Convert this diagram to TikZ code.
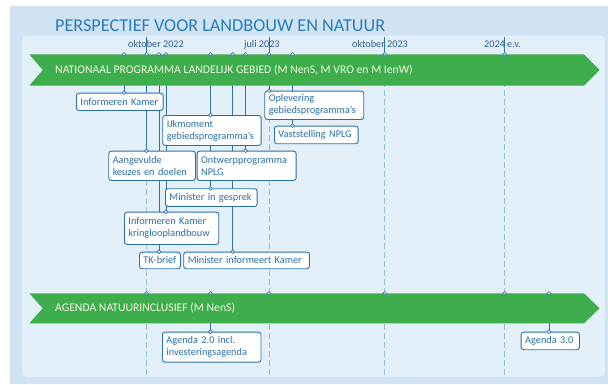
\documentclass[tikz,border=0pt]{standalone}
\usepackage{fontspec}
\setmainfont{Carlito}
\usetikzlibrary{calc}
\usetikzlibrary{backgrounds}

\definecolor{outerbg}{HTML}{CFE3F2}
\definecolor{panelbg}{HTML}{E4F0F9}
\definecolor{bannergreen}{HTML}{3DAE4B}
\definecolor{bannerwhite}{HTML}{F2F8E4}
\definecolor{titleblue}{HTML}{2A7CC0}
\definecolor{boxblue}{HTML}{2B6FA8}
\definecolor{dateblue}{HTML}{2A5F95}
\definecolor{linkblue}{HTML}{2F72AA}
\definecolor{dashblue}{HTML}{8CBFE2}

\tikzset{
  dot/.style={circle, inner sep=0pt, minimum size=3.6pt, draw=linkblue, fill=white, line width=0.7pt},
  box/.style={draw=boxblue, fill=white, rounded corners=2.5pt, line width=0.9pt, anchor=north west,
    align=left, inner xsep=4pt, inner ysep=0pt, text=boxblue, font=\fontsize{10.3}{12}\selectfont},
  link/.style={draw=linkblue, line width=0.8pt},
  grid/.style={draw=dashblue, line width=0.9pt, dash pattern=on 6pt off 3pt},
  datum/.style={anchor=base west, inner sep=0pt, text=dateblue, font=\fontsize{10.2}{12}\selectfont},
  bannertext/.style={anchor=west, inner sep=0pt, text=bannerwhite, font=\fontsize{11.7}{13}\selectfont},
  titel/.style={anchor=base west, inner sep=0pt, text=titleblue, font=\fontsize{18.2}{20}\selectfont}
}

\begin{document}
\begin{tikzpicture}[x=1pt, y=-1pt]
\useasboundingbox (0,0) rectangle (608,384);

% First, define the boxes
\node[box, text width=78.7pt, minimum height=17.3pt] (infk) at (76,92.7) {Informeren Kamer};
\node[box, text width=90.4pt, minimum height=30pt] (ijk) at (162.3,115) {IJkmoment\\gebiedsprogramma's};
\node[box, text width=78.7pt, minimum height=29.3pt] (aang) at (108.3,150.7) {Aangevulde\\keuzes en doelen};
\node[box, text width=91pt, minimum height=29.3pt] (ontw) at (196.7,150.7) {Ontwerpprogramma\\NPLG};
\node[box, text width=83.7pt, minimum height=17.7pt] (mig) at (165,188.3) {Minister in gesprek};
\node[box, text width=86.3pt, minimum height=32.3pt] (ikk) at (124,211.7) {Informeren Kamer\\kringlooplandbouw};
\node[box, text width=33pt, minimum height=16.6pt] (tk) at (139,251.7) {TK-brief};
\node[box, text width=117.7pt, minimum height=16.6pt] (mik) at (183.3,251.7) {Minister informeert Kamer};
\node[box, text width=91pt, minimum height=28.3pt] (opl) at (264.3,90.7) {Oplevering\\gebiedsprogramma's};
\node[box, text width=75.7pt, minimum height=17.6pt] (vast) at (274,125.7) {Vaststelling NPLG};
\node[box, text width=90.5pt, minimum height=30pt] (ag2) at (162,331.7) {Agenda 2.0 incl.\\investeringsagenda};
\node[box, text width=50.3pt, minimum height=17.6pt] (ag3) at (520.7,331.7) {Agenda 3.0};

% Ticks on the top edge of both banners
\foreach \x [count=\i] in {124,146.5,159,166,210.5,232.6,245.5,269,292.5,384.5,504.6}
  \coordinate (n\i) at (\x,54.3);
\foreach \x [count=\i] in {146.5,210.5,269,384.5,504.6,549}
  \coordinate (a\i) at (\x,293.3);

\begin{scope}[on background layer]
% Backgrounds
\fill[outerbg] (10,6) rectangle (608,384);
\fill[panelbg, rounded corners=5pt] (22,35.5) rectangle (605,377);

% Dashed time lines, with a solid piece up to the dates
\foreach \i in {2,8,10,11} {
  \draw[grid] (n\i) -- (n\i |- 0,377);
  \draw[link, line width=0.6pt] (n\i) -- ++(0,-17.8);
}

% Connectors from the banners to the boxes
\foreach \t/\b in {n1/infk, n2/aang, n3/tk, n4/ikk, n5/ijk, n5/mig, n6/mik, n7/ontw, n8/opl, n9/vast, a2/ag2, a6/ag3}
  \draw[link] (\t) -- (\t |- \b.north);

% Banners
\fill[bannergreen] (29.3,54.3) -- (584,54.3) -- (599.5,70) -- (584,85.7) -- (29.3,85.7) -- (42.7,70) -- cycle;
\fill[bannergreen] (29.3,293.3) -- (584,293.3) -- (599.5,308.3) -- (584,323.3) -- (29.3,323.3) -- (42.7,308.3) -- cycle;
\node[bannertext] (nplg) at (55,70) {NATIONAAL PROGRAMMA LANDELIJK GEBIED (M NenS, M VRO en M IenW)};
\node[bannertext] (agenda) at (55,308) {AGENDA NATUURINCLUSIEF (M NenS)};
\end{scope}

% Title and dates
\node[titel] (kop) at (55,31.7) {PERSPECTIEF VOOR LANDBOUW EN NATUUR};
\node[datum] (okt22) at (128,47.3) {oktober 2022};
\node[datum] (jul23) at (244,47.3) {juli 2023};
\node[datum] (okt23) at (352,47.3) {oktober 2023};
\node[datum] (jr24) at (484,47.3) {2024 e.v.};

% Finally the small circles
\foreach \i in {1,...,11} \node[dot] at (n\i) {};
\foreach \i in {1,...,6} \node[dot] at (a\i) {};
\foreach \t/\b in {n1/infk, n2/aang, n3/tk, n4/ikk, n5/ijk, n5/mig, n6/mik, n7/ontw, n8/opl, n9/vast, a2/ag2, a6/ag3}
  \node[dot] at (\t |- \b.north) {};
\end{tikzpicture}
\end{document}
